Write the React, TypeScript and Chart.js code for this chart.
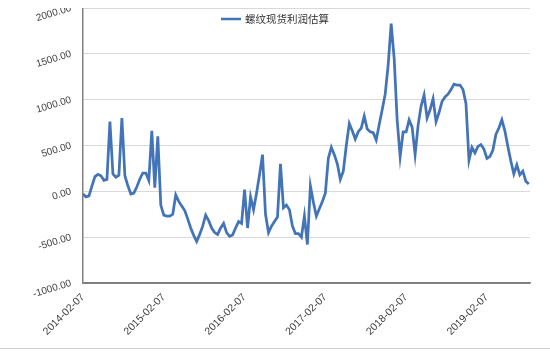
import React, { useEffect, useRef } from "react";
import { Chart, registerables } from "chart.js";

Chart.register(...registerables);

// Tick labels on the date axis (one every year)
const yearLabels = ["2014-02-07", "2015-02-07", "2016-02-07", "2017-02-07", "2018-02-07", "2019-02-07"];
// Number of samples per year in the series below
const pointsPerYear = 27;

const seriesName = "螺纹现货利润估算";

// Estimated values (yuan/ton), sampled roughly every 2 weeks from 2014-02-07
const values = [
  -30, -60, -50, 60, 160, 185, 170, 120, 130, 760,
  190, 155, 175, 800, 170, 60, -30, -20, 50, 135,
  200, 200, 120, 660, 40, 600, -150, -260, -270, -270,
  -250, -40, -110, -160, -210, -300, -400, -480, -546, -470,
  -380, -260, -320, -400, -450, -470, -400, -350, -450, -490,
  -475, -400, -330, -350, 20, -400, -60, -200, -20, 180,
  400, -250, -450, -380, -330, -280, 300, -180, -150, -200,
  -380, -460, -460, -500, -270, -580, 60, -120, -270, -190,
  -110, -20, 360, 480, 400, 300, 130, 220, 500, 740,
  660, 570, 650, 690, 820, 680, 650, 640, 560, 730,
  890, 1060, 1380, 1830, 1450, 780, 380, 650, 650, 780,
  700, 400, 720, 930, 1050, 800, 890, 1010, 760, 860,
  980, 1030, 1060, 1110, 1170, 1160, 1160, 1110, 960, 340,
  480, 420, 490, 510, 460, 360, 380, 450, 620, 690,
  780, 660, 490, 330, 190, 290, 180, 220, 110, 80,
];

const yMin = -1000;
const yMax = 2000;
const yStep = 500;

const topLegend = {
  id: "topLegend",
  afterDraw(chart: any) {
    const ctx = chart.ctx;
    const ds = chart.data.datasets[0];
    ctx.save();
    ctx.font = "10.5px 'Noto Sans CJK SC', sans-serif";
    const tw = ctx.measureText(ds.label).width;
    const lineW = 20;
    const gap = 4;
    const x0 = (chart.width - (lineW + gap + tw)) / 2;
    const y = chart.chartArea.top + 11;
    ctx.strokeStyle = ds.borderColor;
    ctx.lineWidth = 2.5;
    ctx.beginPath();
    ctx.moveTo(x0, y);
    ctx.lineTo(x0 + lineW, y);
    ctx.stroke();
    ctx.fillStyle = "#303030";
    ctx.textBaseline = "middle";
    ctx.textAlign = "left";
    ctx.fillText(ds.label, x0 + lineW + gap, y);
    ctx.restore();
  },
};

export default function App() {
  const canvasRef = useRef<HTMLCanvasElement | null>(null);

  useEffect(() => {
    if (!canvasRef.current) return;
    const points = values.map((v, i) => ({ x: i, y: v }));
    const chart = new Chart(canvasRef.current, {
      type: "line",
      data: {
        datasets: [
          {
            label: seriesName,
            data: points,
            borderColor: "#4474B8",
            backgroundColor: "#4474B8",
            borderWidth: 2.75,
            pointRadius: 0,
            tension: 0,
          },
        ],
      },
      plugins: [topLegend],
      options: {
        animation: false,
        responsive: true,
        maintainAspectRatio: false,
        layout: { padding: { top: 0, right: 12, left: 0, bottom: 0 } },
        plugins: {
          tooltip: { enabled: false },
          legend: { display: false },
        },
        scales: {
          x: {
            type: "linear",
            min: 0,
            max: 149.4,
            afterBuildTicks: (scale: any) => {
              scale.ticks = yearLabels.map((_, k) => ({ value: k * pointsPerYear }));
            },
            afterFit: (scale: any) => {
              scale.height = 60;
              scale.paddingLeft = 0;
              scale.paddingRight = 0;
            },
            grid: { display: false, drawTicks: false },
            border: { display: true, color: "#808080", width: 1.5 },
            ticks: {
              autoSkip: false,
              minRotation: 45,
              maxRotation: 45,
              padding: 8,
              color: "#404040",
              font: { family: "'Liberation Sans', sans-serif", size: 10.5 },
              callback: (value: any) => yearLabels[Math.round(Number(value) / pointsPerYear)] ?? "",
            },
          },
          y: {
            min: yMin,
            max: yMax,
            afterFit: (scale: any) => {
              scale.width = 75;
              scale.paddingTop = 0;
              scale.paddingBottom = 0;
            },
            grid: {
              drawTicks: false,
              color: (ctx: any) => (ctx.tick && ctx.tick.value === yMin ? "#808080" : "#d9d9d9"),
              lineWidth: 1,
            },
            border: { display: true, color: "#808080", width: 1.5 },
            ticks: {
              stepSize: yStep,
              minRotation: 17,
              maxRotation: 17,
              padding: 12,
              color: "#404040",
              font: { family: "'Liberation Sans', sans-serif", size: 10 },
              callback: (value: any) => Number(value).toFixed(2),
            },
          },
        },
      },
    });
    return () => chart.destroy();
  }, []);

  return (
    <>
      <div style={{ position: "relative", width: 534, height: 335 }}>
        <canvas ref={canvasRef} />
      </div>
      <div
        style={{
          position: "fixed",
          left: 0,
          top: 348,
          width: 550,
          height: 1,
          background: "#cfcfcf",
        }}
      />
    </>
  );
}
